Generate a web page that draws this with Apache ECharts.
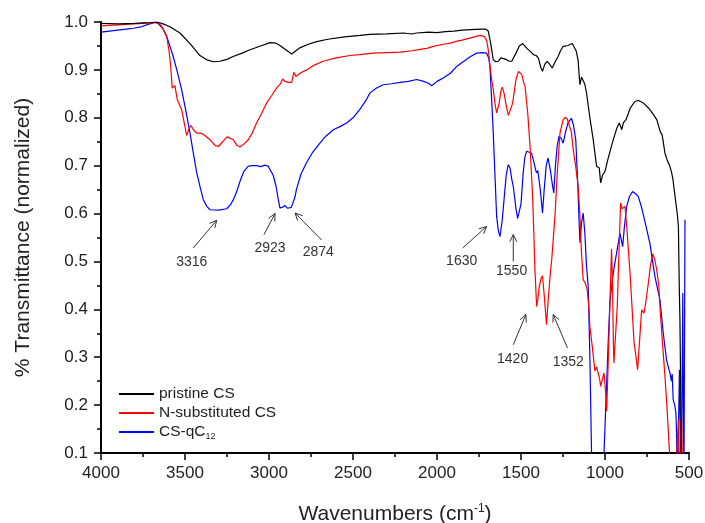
<!DOCTYPE html>
<html>
<head>
<meta charset="utf-8">
<script src="https://cdn.jsdelivr.net/npm/echarts@6/dist/echarts.min.js"></script>
<style>
  html, body { margin: 0; padding: 0; background: #fff; }
  #main { width: 705px; height: 523px; }
</style>
</head>
<body>
<div id="main"></div>
<script>
// spectra (wavenumber in cm-1, normalized transmittance)
var pristineX = [4000, 3900, 3800, 3750, 3700, 3667, 3630, 3590, 3530, 3470, 3411, 3370, 3330, 3292, 3250, 3214, 3160, 3113, 3050, 2994, 2960, 2935, 2900, 2865, 2840, 2816, 2770, 2716, 2650, 2550, 2458, 2400, 2300, 2200, 2150, 2121, 2050, 2000, 1950, 1900, 1850, 1800, 1740, 1710, 1695, 1680, 1665, 1650, 1635, 1620, 1609, 1590, 1570, 1555, 1530, 1510, 1490, 1465, 1440, 1427, 1410, 1397, 1382, 1372, 1358, 1344, 1330, 1314, 1295, 1279, 1265, 1249, 1220, 1195, 1185, 1172, 1160, 1152, 1149, 1140, 1133, 1120, 1110, 1090, 1070, 1055, 1050, 1040, 1034, 1026, 1015, 1000, 985, 970, 951, 930, 915, 905, 901, 890, 875, 850, 822, 800, 772, 740, 710, 692, 670, 660, 643, 630, 615, 603, 595, 590, 583, 570, 563, 558, 554, 550, 546];
var pristineY = [0.997, 0.996, 0.997, 0.998, 0.999, 1.0, 0.996, 0.990, 0.977, 0.955, 0.930, 0.921, 0.917, 0.918, 0.922, 0.928, 0.935, 0.942, 0.950, 0.957, 0.956, 0.951, 0.942, 0.933, 0.940, 0.946, 0.953, 0.959, 0.964, 0.969, 0.972, 0.974, 0.975, 0.977, 0.975, 0.977, 0.979, 0.978, 0.980, 0.981, 0.983, 0.984, 0.985, 0.985, 0.981, 0.955, 0.921, 0.917, 0.918, 0.925, 0.928, 0.922, 0.918, 0.918, 0.935, 0.950, 0.955, 0.945, 0.937, 0.932, 0.930, 0.925, 0.905, 0.897, 0.912, 0.918, 0.912, 0.904, 0.918, 0.928, 0.940, 0.949, 0.951, 0.955, 0.954, 0.940, 0.920, 0.880, 0.869, 0.885, 0.888, 0.870, 0.852, 0.800, 0.754, 0.712, 0.699, 0.700, 0.695, 0.664, 0.680, 0.688, 0.710, 0.730, 0.754, 0.778, 0.789, 0.780, 0.775, 0.790, 0.796, 0.820, 0.834, 0.836, 0.831, 0.820, 0.806, 0.796, 0.770, 0.765, 0.726, 0.712, 0.700, 0.685, 0.670, 0.655, 0.636, 0.600, 0.573, 0.450, 0.379, 0.250, 0.080];

var nsubX = [4000, 3900, 3800, 3700, 3669, 3640, 3609, 3595, 3585, 3576, 3568, 3560, 3546, 3530, 3520, 3505, 3490, 3475, 3464, 3450, 3430, 3405, 3381, 3351, 3320, 3301, 3275, 3250, 3235, 3212, 3190, 3173, 3150, 3123, 3100, 3074, 3040, 3014, 2985, 2955, 2930, 2919, 2906, 2880, 2865, 2855, 2852, 2840, 2810, 2776, 2730, 2677, 2600, 2518, 2458, 2380, 2300, 2220, 2150, 2100, 2060, 2022, 1970, 1920, 1880, 1850, 1800, 1744, 1719, 1705, 1695, 1685, 1675, 1665, 1655, 1645, 1639, 1630, 1620, 1611, 1600, 1585, 1575, 1566, 1550, 1530, 1515, 1506, 1495, 1485, 1476, 1460, 1446, 1430, 1417, 1407, 1400, 1391, 1380, 1372, 1362, 1348, 1338, 1327, 1317, 1298, 1285, 1268, 1250, 1238, 1225, 1219, 1200, 1189, 1175, 1160, 1150, 1140, 1130, 1118, 1106, 1095, 1090, 1075, 1060, 1050, 1041, 1032, 1026, 1015, 1006, 997, 990, 980, 970, 961, 955, 950, 947, 940, 927, 915, 907, 898, 891, 881, 870, 860, 851, 840, 827, 822, 815, 806, 795, 782, 775, 768, 755, 742, 730, 716, 705, 692, 680, 673, 660, 643, 630, 617, 605, 580, 570, 563, 557, 550, 544, 538];
var nsubY = [0.992, 0.994, 0.996, 0.998, 1.0, 0.992, 0.970, 0.940, 0.907, 0.862, 0.865, 0.867, 0.838, 0.825, 0.817, 0.790, 0.763, 0.778, 0.784, 0.775, 0.768, 0.768, 0.763, 0.754, 0.742, 0.740, 0.750, 0.760, 0.758, 0.754, 0.742, 0.739, 0.745, 0.754, 0.768, 0.789, 0.812, 0.831, 0.846, 0.862, 0.872, 0.881, 0.876, 0.874, 0.874, 0.890, 0.895, 0.886, 0.894, 0.900, 0.910, 0.918, 0.925, 0.930, 0.932, 0.935, 0.936, 0.937, 0.940, 0.943, 0.945, 0.949, 0.953, 0.956, 0.960, 0.962, 0.967, 0.972, 0.970, 0.962, 0.942, 0.910, 0.880, 0.859, 0.830, 0.810, 0.806, 0.830, 0.855, 0.864, 0.850, 0.820, 0.805, 0.801, 0.830, 0.880, 0.897, 0.899, 0.890, 0.875, 0.866, 0.810, 0.740, 0.629, 0.483, 0.406, 0.420, 0.448, 0.465, 0.470, 0.430, 0.368, 0.420, 0.469, 0.504, 0.594, 0.680, 0.768, 0.795, 0.801, 0.798, 0.796, 0.770, 0.733, 0.700, 0.657, 0.600, 0.518, 0.462, 0.455, 0.441, 0.400, 0.364, 0.320, 0.271, 0.280, 0.284, 0.255, 0.239, 0.255, 0.267, 0.230, 0.187, 0.300, 0.420, 0.526, 0.450, 0.330, 0.288, 0.330, 0.406, 0.540, 0.622, 0.610, 0.608, 0.615, 0.570, 0.520, 0.476, 0.410, 0.330, 0.333, 0.300, 0.274, 0.330, 0.399, 0.395, 0.392, 0.420, 0.455, 0.490, 0.516, 0.505, 0.483, 0.450, 0.406, 0.340, 0.260, 0.190, 0.107, 0.040, 0.040, 0.120, 0.170, 0.080, 0.100, 0.177, 0.050];

var qc12X = [4000, 3950, 3900, 3850, 3808, 3760, 3720, 3679, 3660, 3649, 3630, 3609, 3590, 3570, 3545, 3520, 3495, 3470, 3450, 3430, 3410, 3391, 3370, 3351, 3300, 3252, 3230, 3212, 3190, 3173, 3150, 3123, 3100, 3074, 3050, 3024, 3005, 2994, 2975, 2958, 2945, 2935, 2920, 2905, 2890, 2879, 2867, 2857, 2845, 2837, 2810, 2777, 2740, 2697, 2660, 2617, 2575, 2538, 2500, 2458, 2420, 2399, 2360, 2320, 2270, 2220, 2170, 2121, 2080, 2050, 2032, 2000, 1963, 1920, 1884, 1840, 1800, 1764, 1730, 1705, 1692, 1685, 1675, 1665, 1655, 1645, 1635, 1625, 1612, 1601, 1588, 1576, 1565, 1555, 1546, 1530, 1520, 1511, 1500, 1487, 1477, 1467, 1450, 1437, 1425, 1412, 1407, 1400, 1393, 1385, 1372, 1362, 1350, 1339, 1325, 1313, 1305, 1295, 1285, 1274, 1262, 1249, 1235, 1220, 1200, 1188, 1174, 1162, 1155, 1149, 1140, 1130, 1120, 1110, 1100, 1090, 1080, 1070, 1020, 1006, 990, 980, 970, 955, 941, 925, 911, 903, 895, 885, 871, 855, 836, 820, 802, 780, 760, 732, 703, 673, 653, 634, 620, 613, 605, 600, 594, 585, 578, 574, 570, 565, 557, 552, 547, 542, 537, 534, 530, 527, 524];
var qc12Y = [0.979, 0.981, 0.983, 0.985, 0.987, 0.990, 0.995, 0.999, 0.997, 0.994, 0.985, 0.970, 0.950, 0.928, 0.895, 0.859, 0.815, 0.768, 0.725, 0.685, 0.655, 0.629, 0.615, 0.608, 0.607, 0.610, 0.618, 0.629, 0.648, 0.667, 0.688, 0.699, 0.700, 0.700, 0.698, 0.701, 0.699, 0.695, 0.680, 0.657, 0.630, 0.612, 0.613, 0.617, 0.611, 0.610, 0.613, 0.615, 0.635, 0.650, 0.682, 0.706, 0.728, 0.747, 0.762, 0.775, 0.782, 0.789, 0.800, 0.818, 0.838, 0.852, 0.862, 0.869, 0.871, 0.874, 0.876, 0.880, 0.876, 0.872, 0.867, 0.876, 0.883, 0.893, 0.907, 0.918, 0.928, 0.935, 0.936, 0.935, 0.925, 0.907, 0.840, 0.768, 0.680, 0.594, 0.565, 0.552, 0.585, 0.629, 0.680, 0.702, 0.695, 0.672, 0.657, 0.610, 0.590, 0.587, 0.620, 0.685, 0.718, 0.730, 0.728, 0.726, 0.710, 0.690, 0.685, 0.690, 0.686, 0.650, 0.601, 0.650, 0.700, 0.716, 0.690, 0.660, 0.643, 0.700, 0.740, 0.761, 0.758, 0.747, 0.770, 0.790, 0.799, 0.785, 0.754, 0.660, 0.590, 0.539, 0.580, 0.601, 0.560, 0.490, 0.448, 0.300, 0.100, -0.050, -0.050, 0.100, 0.246, 0.340, 0.420, 0.465, 0.497, 0.530, 0.559, 0.545, 0.531, 0.570, 0.615, 0.635, 0.646, 0.642, 0.636, 0.610, 0.580, 0.536, 0.469, 0.420, 0.350, 0.295, 0.275, 0.267, 0.250, 0.265, 0.211, 0.200, 0.184, 0.142, 0.050, 0.100, 0.274, 0.150, 0.050, 0.200, 0.434, 0.200, 0.050, 0.300, 0.587];

var seriesNames = ['pristine CS', 'N-substituted CS', 'CS-qC12'];
var seriesColors = ['#000000', '#ff0000', '#0000ff'];
var xTicks = [4000, 3500, 3000, 2500, 2000, 1500, 1000, 500];

// peak annotations: label, arrow tail, arrow head, label centre
var peakLabels = ['3316', '2923', '2874', '1630', '1550', '1420', '1352'];
var arrowTail = [[3451, 0.528], [3030, 0.556], [2687, 0.545], [1847, 0.528], [1546, 0.500], [1546, 0.326], [1223, 0.319]];
var arrowHead = [[3311, 0.586], [2964, 0.600], [2845, 0.601], [1705, 0.573], [1546, 0.556], [1471, 0.389], [1308, 0.389]];
var labelAt = [[3460, 0.499], [2994, 0.527], [2707, 0.519], [1853, 0.500], [1556, 0.479], [1550, 0.296], [1219, 0.290]];

function zip (xs, ys) {
  var out = []
  for (var i = 0; i < xs.length; i++) out.push([xs[i], ys[i]])
  return out
}

var font = 'Liberation Sans, Arial, sans-serif'

var chart = echarts.init(document.getElementById('main'))

var spectra = [zip(pristineX, pristineY), zip(nsubX, nsubY), zip(qc12X, qc12Y)]
var series = spectra.map(function (d, i) {
  return {
    name: seriesNames[i],
    type: 'line',
    data: d,
    showSymbol: false,
    symbol: 'none',
    clip: true,
    lineStyle: { color: seriesColors[i], width: 1.2 },
    itemStyle: { color: seriesColors[i] },
    z: 3 - i
  }
})

// arrows with open heads plus the peak numbers
var noteData = peakLabels.map(function (s, i) {
  return [arrowTail[i][0], arrowTail[i][1], arrowHead[i][0], arrowHead[i][1], labelAt[i][0], labelAt[i][1]]
})

series.push({
  name: 'notes',
  type: 'custom',
  silent: true,
  clip: false,
  z: 5,
  encode: { x: [0, 2, 4], y: [1, 3, 5] },
  data: noteData,
  renderItem: function (params, api) {
    var t = api.coord([api.value(0), api.value(1)])
    var h = api.coord([api.value(2), api.value(3)])
    var l = api.coord([api.value(4), api.value(5)])
    var ang = Math.atan2(h[1] - t[1], h[0] - t[0])
    var len = 8
    var spread = 0.45
    var w1 = [h[0] - len * Math.cos(ang - spread), h[1] - len * Math.sin(ang - spread)]
    var w2 = [h[0] - len * Math.cos(ang + spread), h[1] - len * Math.sin(ang + spread)]
    var stroke = { stroke: '#333', lineWidth: 1, fill: null }
    return {
      type: 'group',
      children: [
        { type: 'line', shape: { x1: t[0], y1: t[1], x2: h[0], y2: h[1] }, style: stroke },
        { type: 'polyline', shape: { points: [w1, h, w2] }, style: stroke },
        {
          type: 'text',
          x: l[0],
          y: l[1],
          style: {
            text: peakLabels[params.dataIndex],
            fill: '#333',
            font: '14px ' + font,
            align: 'center',
            verticalAlign: 'middle'
          }
        }
      ]
    }
  }
})

chart.setOption({
  animation: false,
  grid: { left: 101, right: 16, top: 22, bottom: 70, containLabel: false, outerBoundsMode: 'none' },
  legend: {
    data: seriesNames,
    left: 113,
    top: 381,
    orient: 'vertical',
    itemWidth: 35,
    itemHeight: 2,
    itemGap: 3,
    textStyle: {
      fontFamily: font,
      fontSize: 15.5,
      color: '#222',
      rich: {
        a: { fontFamily: font, fontSize: 15.5, color: '#222' },
        s: { fontFamily: font, fontSize: 9, color: '#222', padding: [10, 0, 0, 0] }
      }
    },
    formatter: function (name) {
      if (name === 'CS-qC12') return '{a|CS-qC}{s|12}'
      return name
    }
  },
  xAxis: {
    type: 'value',
    inverse: true,
    min: 500,
    max: 4000,
    interval: 500,
    name: '{a|Wavenumbers (cm}{s|-1}{a|)}',
    nameLocation: 'middle',
    nameGap: 50,
    nameTextStyle: {
      rich: {
        a: { fontFamily: font, fontSize: 21, color: '#222' },
        s: { fontFamily: font, fontSize: 12, color: '#222', padding: [0, 0, 11, 0] }
      }
    },
    axisLine: { onZero: false, lineStyle: { color: '#000', width: 2 } },
    axisTick: { show: true, inside: false, length: 7, lineStyle: { color: '#000', width: 1.5 } },
    minorTick: { show: true, splitNumber: 2, length: 4, lineStyle: { color: '#000', width: 1.5 } },
    axisLabel: {
      margin: 12,
      fontFamily: font,
      fontSize: 17,
      color: '#222',
      customValues: xTicks,
      formatter: function (v) { return String(v) }
    },
    splitLine: { show: false }
  },
  yAxis: {
    type: 'value',
    min: 0.1,
    max: 1.0,
    interval: 0.1,
    name: '% Transmittance (normalized)',
    nameLocation: 'middle',
    nameGap: 67,
    nameTextStyle: { fontFamily: font, fontSize: 21, color: '#222' },
    axisLine: { show: true, onZero: false, lineStyle: { color: '#000', width: 2 } },
    axisTick: { show: true, inside: false, length: 7, lineStyle: { color: '#000', width: 1.5 } },
    minorTick: { show: true, splitNumber: 2, length: 4, lineStyle: { color: '#000', width: 1.5 } },
    axisLabel: {
      margin: 13,
      fontFamily: font,
      fontSize: 17,
      color: '#222',
      formatter: function (v) { return v.toFixed(1) }
    },
    splitLine: { show: false }
  },
  series: series
})
</script>
</body>
</html>
